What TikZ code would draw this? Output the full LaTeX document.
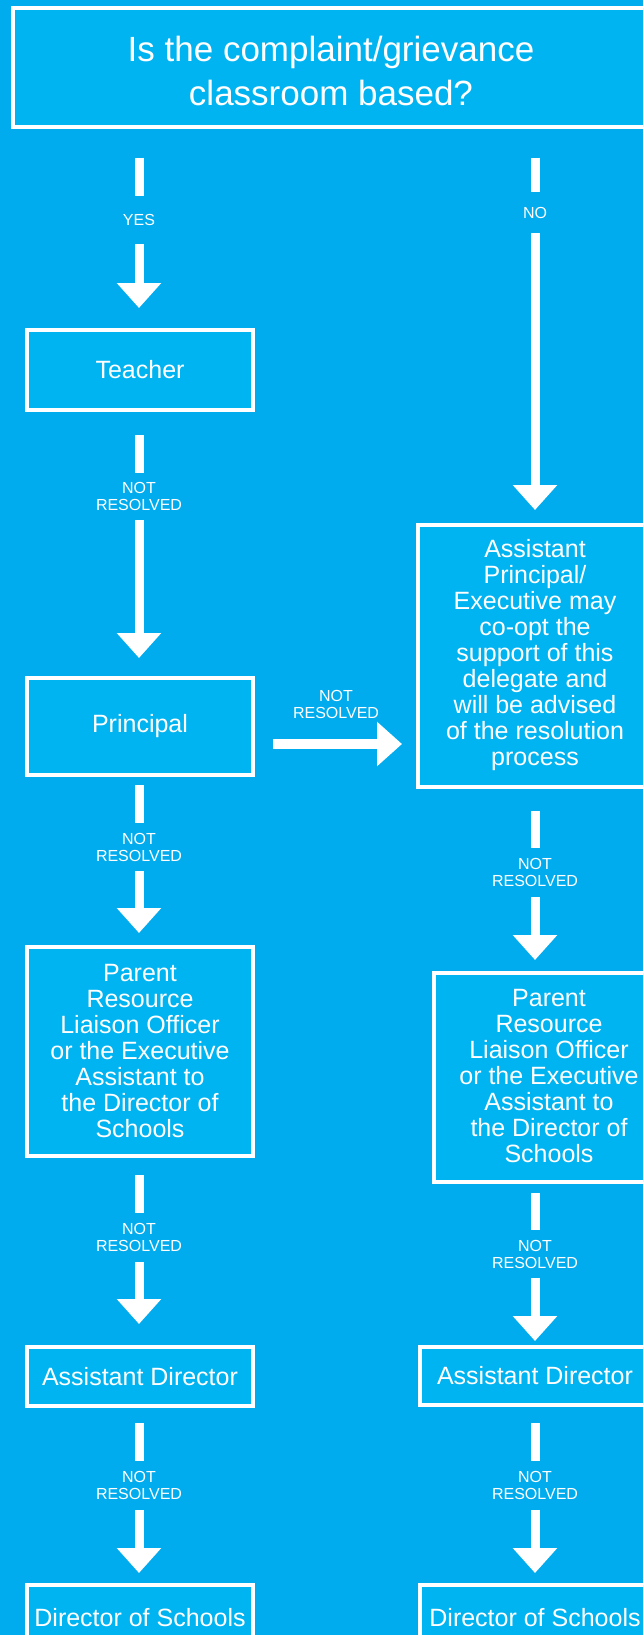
\documentclass[tikz,border=0pt]{standalone}
\usepackage{fontspec}
\setmainfont{Liberation Sans}
\usetikzlibrary{arrows.meta}
\definecolor{bg}{RGB}{0,172,238}
\definecolor{boxfill}{RGB}{0,180,241}
\newcommand{\padtext}[2]{\begin{tabular}{@{}c@{}}#2\end{tabular}\hspace*{#1}}
\begin{document}
\begin{tikzpicture}[x=1pt,y=-1pt,
  box/.style={draw=white, line width=4pt, fill=boxfill, text=white, inner sep=0pt, align=center, font=\fontsize{25}{26}\selectfont},
  rbox/.style={draw=white, line width=4pt, fill=boxfill, text=white, inner sep=0pt, font=\fontsize{25}{26}\selectfont},
  lab/.style={text=white, inner sep=0pt, outer sep=0pt, align=center, font=\fontsize{16}{17}\selectfont},
  shaft/.style={draw=white, line width=9pt},
  arr/.style={draw=white, line width=9pt, -{Triangle[width=43pt,length=25pt]}}]
\useasboundingbox (0,0) rectangle (643,1635);
\fill[bg] (0,0) rectangle (643,1635);
\clip (0,0) rectangle (643,1635);

% question
\node[rbox, minimum width=707pt, minimum height=119.5pt, font=\fontsize{35}{44}\selectfont] (q) at (366.5,67.75) {\padtext{71pt}{\rule{0pt}{44pt}Is the complaint/grievance\\classroom based?}};

% left column
\node[box, minimum width=226pt, minimum height=80pt] (teacher) at (140,370) {Teacher};
\node[box, minimum width=226pt, minimum height=97pt] (principal) at (140,726.5) {Principal};
\node[box, minimum width=226pt, minimum height=209pt] (prloL) at (140,1051.5) {Parent\\Resource\\Liaison Officer\\or the Executive\\Assistant to\\the Director of\\Schools};
\node[box, minimum width=226pt, minimum height=59pt] (adL) at (140,1376.5) {Assistant Director};
\node[box, minimum width=226pt, minimum height=65pt] (dosL) at (140,1617.5) {Director of Schools};

% right column
\node[rbox, minimum width=302pt, minimum height=262pt] (ap) at (569,656) {\padtext{68pt}{Assistant\\Principal/\\Executive may\\co-opt the\\support of this\\delegate and\\will be advised\\of the resolution\\process}};
\node[rbox, minimum width=286pt, minimum height=209pt] (prloR) at (577,1077.5) {\padtext{56pt}{\rule{0pt}{22.5pt}Parent\\Resource\\Liaison Officer\\or the Executive\\Assistant to\\the Director of\\Schools}};
\node[rbox, minimum width=300pt, minimum height=58pt] (adR) at (570,1376) {Assistant Director\hspace*{70pt}};
\node[rbox, minimum width=300pt, minimum height=65pt] (dosR) at (570,1617.5) {Director of Schools\hspace*{70pt}};

% labels
\node[lab, minimum height=48pt] (yes) at (139,220) {YES};
\node[lab, minimum height=47pt] (l1) at (139,496.5) {NOT\\RESOLVED};
\node[lab, minimum height=48pt] (l2) at (139,847) {NOT\\RESOLVED};
\node[lab, minimum height=49pt] (l3) at (139,1237.5) {NOT\\RESOLVED};
\node[lab, minimum height=49pt] (l4) at (139,1485.5) {NOT\\RESOLVED};
\node[lab, minimum height=41pt] (no) at (535,212.5) {NO};
\node[lab, minimum height=49pt] (r1) at (535,872.5) {NOT\\RESOLVED};
\node[lab, minimum height=48pt] (r2) at (535,1254) {NOT\\RESOLVED};
\node[lab, minimum height=49pt] (r3) at (535,1485.5) {NOT\\RESOLVED};
\node[lab] (hl) at (336,704) {NOT\\RESOLVED};
\coordinate (hy) at (0,744);

% left connectors
\draw[shaft, shorten <=28pt] (yes.north |- q.south) -- (yes.north);
\draw[arr, shorten >=20pt] (yes.south) -- (yes.south |- teacher.north);
\draw[shaft, shorten <=23pt] (l1.north |- teacher.south) -- (l1.north);
\draw[arr, shorten >=18pt] (l1.south) -- (l1.south |- principal.north);
\draw[shaft, shorten <=8pt] (l2.north |- principal.south) -- (l2.north);
\draw[arr, shorten >=12pt] (l2.south) -- (l2.south |- prloL.north);
\draw[shaft, shorten <=17pt] (l3.north |- prloL.south) -- (l3.north);
\draw[arr, shorten >=21pt] (l3.south) -- (l3.south |- adL.north);
\draw[shaft, shorten <=15pt] (l4.north |- adL.south) -- (l4.north);
\draw[arr, shorten >=10pt] (l4.south) -- (l4.south |- dosL.north);

% right connectors
\draw[shaft, shorten <=28pt] (no.north |- q.south) -- (no.north);
\draw[arr, shorten >=13pt] (no.south) -- (no.south |- ap.north);
\draw[shaft, shorten <=22pt] (r1.north |- ap.south) -- (r1.north);
\draw[arr, shorten >=11pt] (r1.south) -- (r1.south |- prloR.north);
\draw[shaft, shorten <=9pt] (r2.north |- prloR.south) -- (r2.north);
\draw[arr, shorten >=4pt] (r2.south) -- (r2.south |- adR.north);
\draw[shaft, shorten <=16pt] (r3.north |- adR.south) -- (r3.north);
\draw[arr, shorten >=10pt] (r3.south) -- (r3.south |- dosR.north);

% horizontal connector
\draw[arr, line width=10pt, shorten <=18pt, shorten >=14pt] (principal.east |- hy) -- (ap.west |- hy);
\end{tikzpicture}
\end{document}
